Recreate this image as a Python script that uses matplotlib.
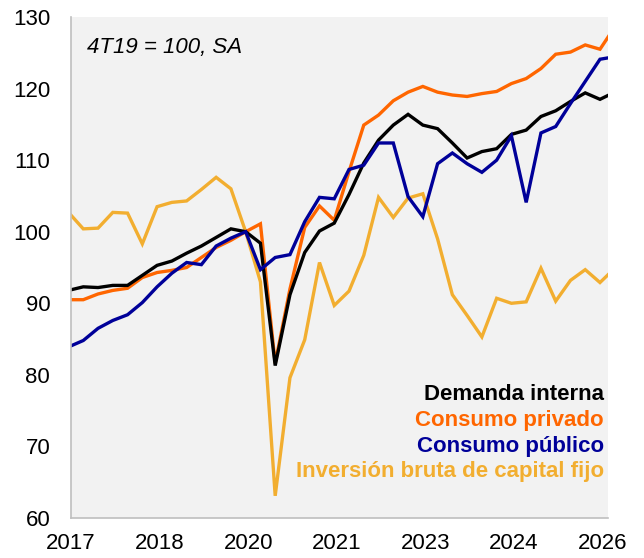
import numpy as np
import matplotlib
matplotlib.use("Agg")
import matplotlib.pyplot as plt

plt.rcParams['font.family'] = ['Liberation Sans', 'DejaVu Sans']

# quarterly index, 4T19 = 100 (2016Q4 .. 2026Q1)
quarters = [f"{y}Q{q}" for y in range(2016, 2027) for q in range(1, 5)]
quarters = quarters[quarters.index("2016Q4"):quarters.index("2026Q1") + 1]

demanda = [91.8, 92.3, 92.2, 92.5, 92.5, 93.9, 95.3, 95.9, 97.0, 98.0,
           99.2, 100.4, 100.0, 98.4, 81.3, 91.2, 97.1, 100.1, 101.2, 105.2,
           109.6, 112.8, 114.9, 116.4, 114.9, 114.4, 112.4, 110.3, 111.2, 111.6,
           113.6, 114.2, 116.1, 116.9, 118.2, 119.4, 118.5, 119.5]
privado = [90.5, 90.5, 91.3, 91.8, 92.1, 93.6, 94.3, 94.6, 95.0, 96.4,
           97.8, 98.8, 100.0, 101.1, 81.6, 92.0, 100.6, 103.6, 101.6, 108.4,
           114.9, 116.3, 118.3, 119.5, 120.3, 119.5, 119.1, 118.9, 119.3, 119.6,
           120.7, 121.4, 122.8, 124.8, 125.1, 126.1, 125.5, 128.6]
publico = [83.9, 84.8, 86.5, 87.6, 88.4, 90.1, 92.3, 94.2, 95.7, 95.4,
           98.0, 99.1, 100.0, 94.7, 96.4, 96.8, 101.4, 104.8, 104.6, 108.7,
           109.3, 112.4, 112.4, 104.9, 102.1, 109.5, 111.0, 109.5, 108.3, 110.0,
           113.4, 104.1, 113.8, 114.7, 117.9, 121.0, 124.1, 124.45]
inversion = [102.7, 100.4, 100.5, 102.7, 102.6, 98.3, 103.5, 104.1, 104.3, 105.9,
             107.6, 106.0, 100.0, 93.0, 63.1, 79.6, 84.9, 95.7, 89.7, 91.7,
             96.7, 104.8, 102.0, 104.7, 105.3, 99.0, 91.2, 88.3, 85.3, 90.7,
             90.0, 90.2, 94.9, 90.3, 93.2, 94.7, 92.9, 94.9]

tick_pos = [0, 6, 12, 18, 24, 30, 36]
tick_labels = ["2017", "2018", "2020", "2021", "2023", "2024", "2026"]

series_names = ["Demanda interna", "Consumo privado", "Consumo público",
                "Inversión bruta de capital fijo"]
c_black = "#000000"
c_orange = "#FF6600"
c_blue = "#000099"
c_yellow = "#F2AE30"

# x in quarters measured from start of 2017
x = np.arange(len(quarters)) - 0.167

fig = plt.figure(figsize=(6.44, 5.58), dpi=100)
ax = fig.add_axes([0.1102, 0.0717, 0.834, 0.8978])
ax.set_facecolor("#F2F2F2")

lw = 2.4
ax.plot(x, inversion, color=c_yellow, lw=lw, solid_joinstyle="miter")
ax.plot(x, privado, color=c_orange, lw=lw, solid_joinstyle="miter")
ax.plot(x, demanda, color=c_black, lw=lw, solid_joinstyle="miter")
ax.plot(x, publico, color=c_blue, lw=lw, solid_joinstyle="miter")

ax.set_xlim(0, 36.38)
ax.set_ylim(60, 130)
ax.set_yticks(range(60, 131, 10))
ax.set_xticks(tick_pos)
ax.set_xticklabels(tick_labels)
ax.tick_params(axis="both", length=0, labelsize=16, colors="black")
ax.tick_params(axis="y", pad=15)
ax.tick_params(axis="x", pad=11)

for s in ["top", "right"]:
    ax.spines[s].set_visible(False)
for s in ["left", "bottom"]:
    ax.spines[s].set_color("#BFBFBF")
    ax.spines[s].set_linewidth(1.2)

ax.text(0.0298, 0.9287, "4T19 = 100, SA", transform=ax.transAxes,
        fontsize=16, style="italic", ha="left", va="baseline")

legend_y = [0.2355, 0.1836, 0.1323, 0.0812]
for name, col, yy in zip(series_names, [c_black, c_orange, c_blue, c_yellow], legend_y):
    ax.text(0.9926, yy, name, transform=ax.transAxes, fontsize=16,
            fontweight="bold", color=col, ha="right", va="baseline")

fig.savefig("out.png", dpi=100)
